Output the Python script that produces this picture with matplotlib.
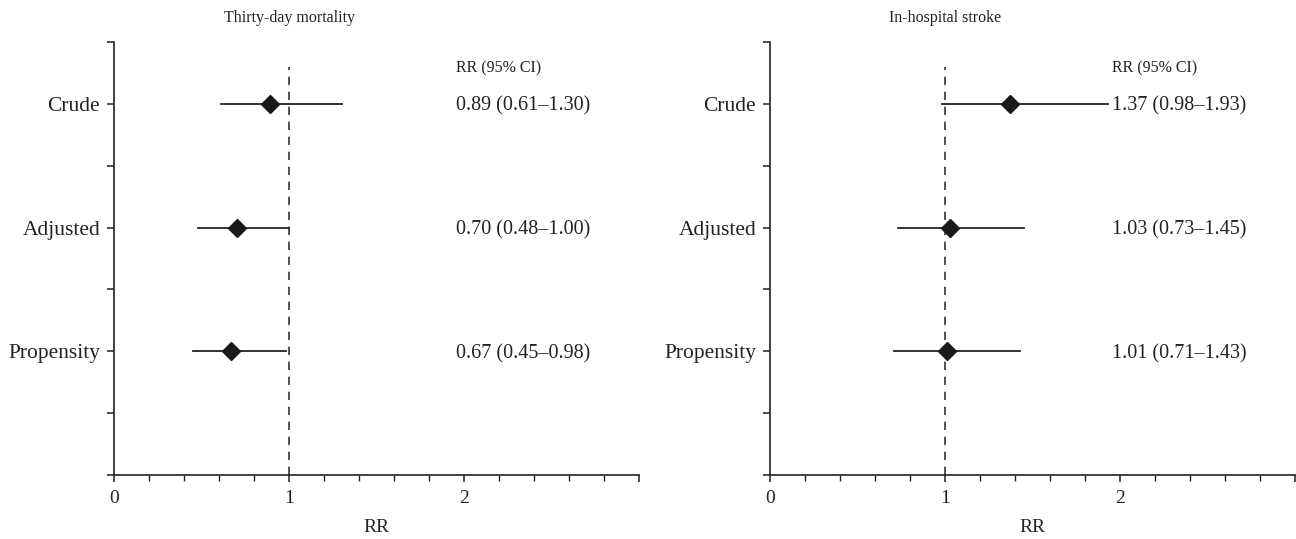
import numpy as np
import matplotlib
matplotlib.use('Agg')
import matplotlib.pyplot as plt
from matplotlib.ticker import MultipleLocator

plt.rcParams['font.family'] = ['Liberation Serif', 'DejaVu Serif']

labels = ['Crude', 'Adjusted', 'Propensity']
rows = [6, 4, 2]

titles = ['Thirty-day mortality', 'In-hospital stroke']
rr = [[0.89, 0.70, 0.67], [1.37, 1.03, 1.01]]
lo = [[0.61, 0.48, 0.45], [0.98, 0.73, 0.71]]
hi = [[1.30, 1.00, 0.98], [1.93, 1.45, 1.43]]

fig = plt.figure(figsize=(12.96, 5.39), dpi=100)
lefts = [114 / 1296, 770 / 1296]
txt = '#222222'

for k in range(2):
    ax = fig.add_axes([lefts[k], 64 / 539, 525 / 1296, 433 / 539])
    ax.set_xlim(0, 3)
    ax.set_ylim(0, 7)
    for s in ['top', 'right']:
        ax.spines[s].set_visible(False)
    for s in ['left', 'bottom']:
        ax.spines[s].set_color(txt)
        ax.spines[s].set_linewidth(1.2)

    ax.xaxis.set_minor_locator(MultipleLocator(0.2))
    ax.set_xticks([0, 1, 2, 3])
    ax.set_xticklabels(['0', '1', '2', ''])
    ax.set_yticks(range(0, 8))
    ax.set_yticklabels(['' if i not in rows else labels[rows.index(i)] for i in range(0, 8)])
    ax.tick_params(axis='both', which='major', length=5, width=1.1, color=txt,
                   labelcolor=txt)
    ax.tick_params(axis='x', which='major', labelsize=14, pad=6)
    ax.tick_params(axis='y', which='major', labelsize=15.5, pad=5)
    ax.tick_params(axis='x', which='minor', length=4, width=1.0, color=txt)

    ax.plot([1, 1], [0, 6.6], linestyle=(0, (5, 4)), color='#333333', lw=1.2)

    for i in range(3):
        ax.plot([lo[k][i], hi[k][i]], [rows[i], rows[i]], color=txt, lw=1.3)
        ax.plot(rr[k][i], rows[i], marker='D', color='#1a1a1a', markersize=9)
        ax.text(1.955, rows[i] - 0.04, f'{rr[k][i]:.2f} ({lo[k][i]:.2f}\u2013{hi[k][i]:.2f})',
                fontsize=14.5, va='center', ha='left', color=txt)
    ax.text(1.955, 6.58, 'RR (95% CI)', fontsize=11.5, va='center', ha='left', color=txt)

    ax.text(1, 7.38, titles[k], fontsize=11.5, ha='center', va='center', color=txt)
    ax.text(1.5, -0.85, 'RR', fontsize=14, ha='center', va='center', color=txt)

fig.savefig('out.png', dpi=100)
